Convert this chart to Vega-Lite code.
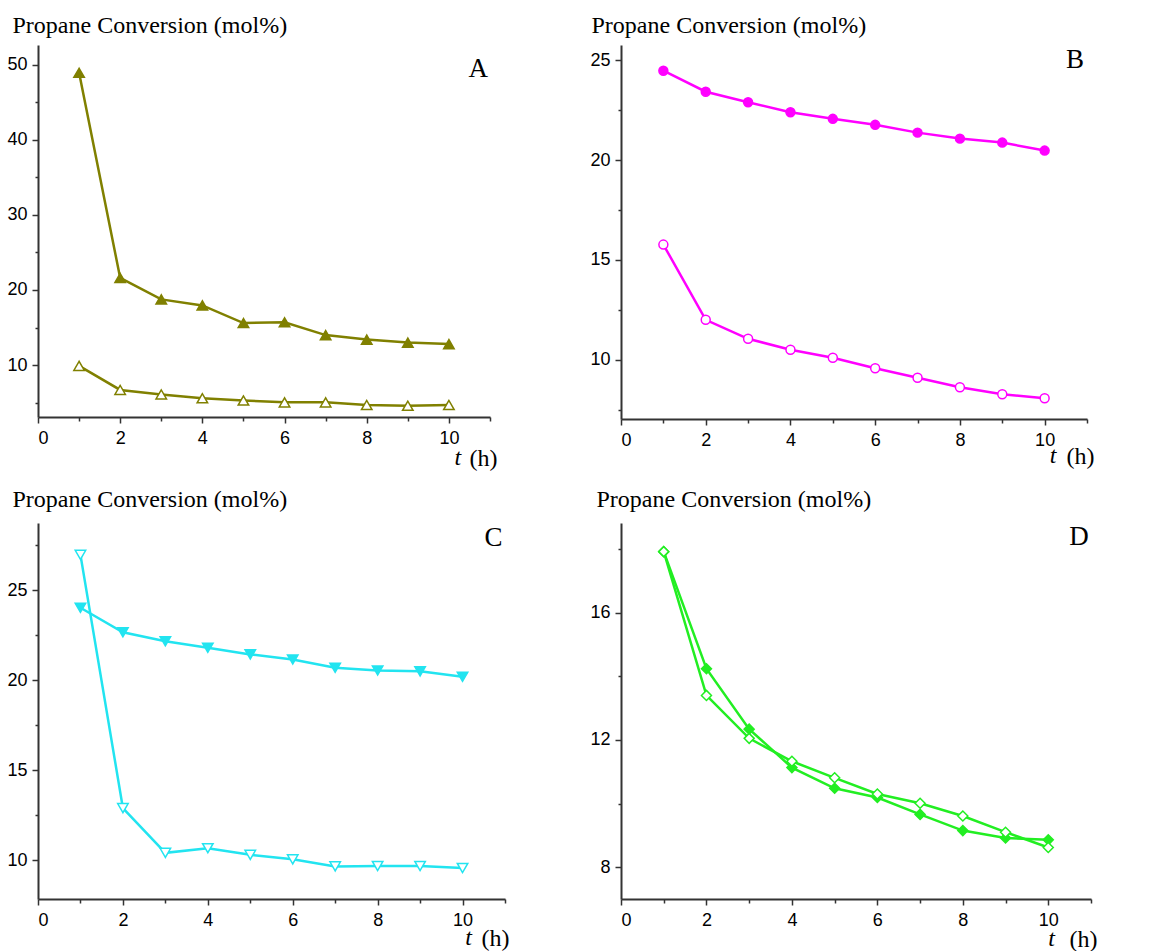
{
  "$schema": "https://vega.github.io/schema/vega-lite/v6.json",
  "background": "white",
  "padding": {"left": 6, "top": 13, "right": 5, "bottom": 5},
  "config": {
    "view": {"stroke": null},
    "axis": {
      "grid": false,
      "domainColor": "#333333",
      "domainWidth": 2,
      "tickColor": "#333333",
      "tickWidth": 1.5,
      "labelFont": "Liberation Sans",
      "labelFontSize": 18,
      "labelColor": "#000000",
      "titleFont": "Liberation Serif",
      "titleFontWeight": "normal",
      "titleColor": "#000000"
    }
  },
  "datasets": {
    "A": [
      {"t": 1, "v": 48.9, "s": "filled"}, {"t": 2, "v": 21.6, "s": "filled"}, {"t": 3, "v": 18.75, "s": "filled"}, {"t": 4, "v": 17.95, "s": "filled"}, {"t": 5, "v": 15.6, "s": "filled"},
      {"t": 6, "v": 15.7, "s": "filled"}, {"t": 7, "v": 14.0, "s": "filled"}, {"t": 8, "v": 13.4, "s": "filled"}, {"t": 9, "v": 13.0, "s": "filled"}, {"t": 10, "v": 12.8, "s": "filled"},
      {"t": 1, "v": 9.9, "s": "open"}, {"t": 2, "v": 6.7, "s": "open"}, {"t": 3, "v": 6.1, "s": "open"}, {"t": 4, "v": 5.6, "s": "open"}, {"t": 5, "v": 5.3, "s": "open"},
      {"t": 6, "v": 5.05, "s": "open"}, {"t": 7, "v": 5.05, "s": "open"}, {"t": 8, "v": 4.7, "s": "open"}, {"t": 9, "v": 4.6, "s": "open"}, {"t": 10, "v": 4.7, "s": "open"}
    ],
    "B": [
      {"t": 1, "v": 24.48, "s": "filled"}, {"t": 2, "v": 23.43, "s": "filled"}, {"t": 3, "v": 22.9, "s": "filled"}, {"t": 4, "v": 22.4, "s": "filled"}, {"t": 5, "v": 22.07, "s": "filled"},
      {"t": 6, "v": 21.77, "s": "filled"}, {"t": 7, "v": 21.38, "s": "filled"}, {"t": 8, "v": 21.08, "s": "filled"}, {"t": 9, "v": 20.88, "s": "filled"}, {"t": 10, "v": 20.48, "s": "filled"},
      {"t": 1, "v": 15.77, "s": "open"}, {"t": 2, "v": 12.0, "s": "open"}, {"t": 3, "v": 11.05, "s": "open"}, {"t": 4, "v": 10.5, "s": "open"}, {"t": 5, "v": 10.1, "s": "open"},
      {"t": 6, "v": 9.57, "s": "open"}, {"t": 7, "v": 9.1, "s": "open"}, {"t": 8, "v": 8.62, "s": "open"}, {"t": 9, "v": 8.27, "s": "open"}, {"t": 10, "v": 8.07, "s": "open"}
    ],
    "C": [
      {"t": 1, "v": 24.02, "s": "filled"}, {"t": 2, "v": 22.66, "s": "filled"}, {"t": 3, "v": 22.16, "s": "filled"}, {"t": 4, "v": 21.8, "s": "filled"}, {"t": 5, "v": 21.43, "s": "filled"},
      {"t": 6, "v": 21.15, "s": "filled"}, {"t": 7, "v": 20.69, "s": "filled"}, {"t": 8, "v": 20.54, "s": "filled"}, {"t": 9, "v": 20.49, "s": "filled"}, {"t": 10, "v": 20.19, "s": "filled"},
      {"t": 1, "v": 26.95, "s": "open"}, {"t": 2, "v": 12.9, "s": "open"}, {"t": 3, "v": 10.42, "s": "open"}, {"t": 4, "v": 10.68, "s": "open"}, {"t": 5, "v": 10.31, "s": "open"},
      {"t": 6, "v": 10.06, "s": "open"}, {"t": 7, "v": 9.67, "s": "open"}, {"t": 8, "v": 9.69, "s": "open"}, {"t": 9, "v": 9.69, "s": "open"}, {"t": 10, "v": 9.58, "s": "open"}
    ],
    "D": [
      {"t": 1, "v": 17.92, "s": "filled"}, {"t": 2, "v": 14.24, "s": "filled"}, {"t": 3, "v": 12.34, "s": "filled"}, {"t": 4, "v": 11.13, "s": "filled"}, {"t": 5, "v": 10.48, "s": "filled"},
      {"t": 6, "v": 10.19, "s": "filled"}, {"t": 7, "v": 9.66, "s": "filled"}, {"t": 8, "v": 9.15, "s": "filled"}, {"t": 9, "v": 8.92, "s": "filled"}, {"t": 10, "v": 8.86, "s": "filled"},
      {"t": 1, "v": 17.92, "s": "open"}, {"t": 2, "v": 13.4, "s": "open"}, {"t": 3, "v": 12.05, "s": "open"}, {"t": 4, "v": 11.33, "s": "open"}, {"t": 5, "v": 10.81, "s": "open"},
      {"t": 6, "v": 10.3, "s": "open"}, {"t": 7, "v": 10.01, "s": "open"}, {"t": 8, "v": 9.61, "s": "open"}, {"t": 9, "v": 9.1, "s": "open"}, {"t": 10, "v": 8.62, "s": "open"}
    ]
  },
  "columns": 2,
  "spacing": {"column": 80, "row": 16},
  "concat": [
    {
      "width": 452, "height": 372,
      "data": {"name": "A"},
      "encoding": {
        "x": {"field": "t", "type": "quantitative", "scale": {"domain": [0, 11], "nice": false, "zero": false},
          "axis": {"title": "(h)", "titleFontSize": 24, "titleAlign": "right", "titleBaseline": "alphabetic", "titleX": 459, "titleY": 48,
            "values": [0,1,2,3,4,5,6,7,8,9,10,11], "labelExpr": "datum.value % 2 === 0 && datum.value <= 10 ? datum.label : ''",
            "tickSize": {"condition": {"test": "datum.value % 2 === 0", "value": 6}, "value": 4}, "labelPadding": 6}},
        "y": {"field": "v", "type": "quantitative", "scale": {"domain": [3.1, 52.6], "nice": false, "zero": false},
          "axis": {"title": "Propane Conversion (mol%)", "titleFontSize": 24, "titleAngle": 0, "titleAlign": "left", "titleBaseline": "alphabetic", "titleX": -26, "titleY": -13,
            "values": [5,10,15,20,25,30,35,40,45,50], "labelExpr": "datum.value % 10 === 0 ? datum.label : ''",
            "tickSize": {"condition": {"test": "datum.value % 10 === 0", "value": 6}, "value": 3}, "labelPadding": 5}}
      },
      "layer": [
        {"mark": {"type": "line", "color": "#808000", "strokeWidth": 2.5}, "encoding": {"detail": {"field": "s"}}},
        {"mark": {"type": "point", "shape": "triangle-up", "size": 110, "filled": true, "stroke": "#808000", "strokeWidth": 1.5, "opacity": 1},
          "encoding": {"fill": {"condition": {"test": "datum.s === 'filled'", "value": "#808000"}, "value": "#ffffff"}}},
        {"transform": [{"filter": "datum.t === 1 && datum.s === 'filled'"}],
          "mark": {"type": "text", "text": "A", "font": "Liberation Serif", "fontSize": 27, "color": "#000000", "align": "right", "baseline": "alphabetic"},
          "encoding": {"x": {"datum": 10.95, "type": "quantitative"}, "y": {"datum": 48.3, "type": "quantitative"}}},
        {"transform": [{"filter": "datum.t === 1 && datum.s === 'filled'"}],
          "mark": {"type": "text", "text": "t", "font": "Liberation Serif", "fontSize": 24, "fontStyle": "italic", "color": "#000000", "align": "center", "baseline": "alphabetic"},
          "encoding": {"x": {"datum": 10.22, "type": "quantitative"}, "y": {"datum": -3.29, "type": "quantitative"}}}
      ]
    },
    {
      "width": 466, "height": 374,
      "data": {"name": "B"},
      "encoding": {
        "x": {"field": "t", "type": "quantitative", "scale": {"domain": [0, 11], "nice": false, "zero": false},
          "axis": {"title": "(h)", "titleFontSize": 24, "titleAlign": "right", "titleBaseline": "alphabetic", "titleX": 473, "titleY": 44,
            "values": [0,1,2,3,4,5,6,7,8,9,10,11], "labelExpr": "datum.value % 2 === 0 && datum.value <= 10 ? datum.label : ''",
            "tickSize": {"condition": {"test": "datum.value % 2 === 0", "value": 6}, "value": 4}, "labelPadding": 6}},
        "y": {"field": "v", "type": "quantitative", "scale": {"domain": [7.03, 25.77], "nice": false, "zero": false},
          "axis": {"title": "Propane Conversion (mol%)", "titleFontSize": 24, "titleAngle": 0, "titleAlign": "left", "titleBaseline": "alphabetic", "titleX": -30, "titleY": -13,
            "values": [7.5,10,12.5,15,17.5,20,22.5,25], "labelExpr": "datum.value % 5 === 0 ? datum.label : ''",
            "tickSize": {"condition": {"test": "datum.value % 5 === 0", "value": 6}, "value": 3}, "labelPadding": 5}}
      },
      "layer": [
        {"mark": {"type": "line", "color": "#ff00ff", "strokeWidth": 2.5}, "encoding": {"detail": {"field": "s"}}},
        {"mark": {"type": "point", "shape": "circle", "size": 80, "filled": true, "stroke": "#ff00ff", "strokeWidth": 1.5, "opacity": 1},
          "encoding": {"fill": {"condition": {"test": "datum.s === 'filled'", "value": "#ff00ff"}, "value": "#ffffff"}}},
        {"transform": [{"filter": "datum.t === 1 && datum.s === 'filled'"}],
          "mark": {"type": "text", "text": "B", "font": "Liberation Serif", "fontSize": 27, "color": "#000000", "align": "right", "baseline": "alphabetic"},
          "encoding": {"x": {"datum": 10.93, "type": "quantitative"}, "y": {"datum": 24.61, "type": "quantitative"}}},
        {"transform": [{"filter": "datum.t === 1 && datum.s === 'filled'"}],
          "mark": {"type": "text", "text": "t", "font": "Liberation Serif", "fontSize": 24, "fontStyle": "italic", "color": "#000000", "align": "center", "baseline": "alphabetic"},
          "encoding": {"x": {"datum": 10.2, "type": "quantitative"}, "y": {"datum": 4.83, "type": "quantitative"}}}
      ]
    },
    {
      "width": 467, "height": 376,
      "data": {"name": "C"},
      "encoding": {
        "x": {"field": "t", "type": "quantitative", "scale": {"domain": [0, 11], "nice": false, "zero": false},
          "axis": {"title": "(h)", "titleFontSize": 24, "titleAlign": "right", "titleBaseline": "alphabetic", "titleX": 471, "titleY": 46,
            "values": [0,1,2,3,4,5,6,7,8,9,10,11], "labelExpr": "datum.value % 2 === 0 && datum.value <= 10 ? datum.label : ''",
            "tickSize": {"condition": {"test": "datum.value % 2 === 0", "value": 6}, "value": 4}, "labelPadding": 6}},
        "y": {"field": "v", "type": "quantitative", "scale": {"domain": [7.86, 28.72], "nice": false, "zero": false},
          "axis": {"title": "Propane Conversion (mol%)", "titleFontSize": 24, "titleAngle": 0, "titleAlign": "left", "titleBaseline": "alphabetic", "titleX": -26, "titleY": -17,
            "values": [10,12.5,15,17.5,20,22.5,25,27.5], "labelExpr": "datum.value % 5 === 0 ? datum.label : ''",
            "tickSize": {"condition": {"test": "datum.value % 5 === 0", "value": 6}, "value": 3}, "labelPadding": 5}}
      },
      "layer": [
        {"mark": {"type": "line", "color": "#22e4f0", "strokeWidth": 2.5}, "encoding": {"detail": {"field": "s"}}},
        {"mark": {"type": "point", "shape": "triangle-down", "size": 110, "filled": true, "stroke": "#22e4f0", "strokeWidth": 1.5, "opacity": 1},
          "encoding": {"fill": {"condition": {"test": "datum.s === 'filled'", "value": "#22e4f0"}, "value": "#ffffff"}}},
        {"transform": [{"filter": "datum.t === 1 && datum.s === 'filled'"}],
          "mark": {"type": "text", "text": "C", "font": "Liberation Serif", "fontSize": 27, "color": "#000000", "align": "right", "baseline": "alphabetic"},
          "encoding": {"x": {"datum": 10.94, "type": "quantitative"}, "y": {"datum": 27.45, "type": "quantitative"}}},
        {"transform": [{"filter": "datum.t === 1 && datum.s === 'filled'"}],
          "mark": {"type": "text", "text": "t", "font": "Liberation Serif", "fontSize": 24, "fontStyle": "italic", "color": "#000000", "align": "center", "baseline": "alphabetic"},
          "encoding": {"x": {"datum": 10.14, "type": "quantitative"}, "y": {"datum": 5.32, "type": "quantitative"}}}
      ]
    },
    {
      "width": 470, "height": 376,
      "data": {"name": "D"},
      "encoding": {
        "x": {"field": "t", "type": "quantitative", "scale": {"domain": [0, 11], "nice": false, "zero": false},
          "axis": {"title": "(h)", "titleFontSize": 24, "titleAlign": "right", "titleBaseline": "alphabetic", "titleX": 476, "titleY": 47,
            "values": [0,1,2,3,4,5,6,7,8,9,10,11], "labelExpr": "datum.value % 2 === 0 && datum.value <= 10 ? datum.label : ''",
            "tickSize": {"condition": {"test": "datum.value % 2 === 0", "value": 6}, "value": 4}, "labelPadding": 6}},
        "y": {"field": "v", "type": "quantitative", "scale": {"domain": [7.0, 18.82], "nice": false, "zero": false},
          "axis": {"title": "Propane Conversion (mol%)", "titleFontSize": 24, "titleAngle": 0, "titleAlign": "left", "titleBaseline": "alphabetic", "titleX": -25, "titleY": -17,
            "values": [8,10,12,14,16,18], "labelExpr": "datum.value % 4 === 0 ? datum.label : ''",
            "tickSize": {"condition": {"test": "datum.value % 4 === 0", "value": 6}, "value": 3}, "labelPadding": 5}}
      },
      "layer": [
        {"mark": {"type": "line", "color": "#22ee22", "strokeWidth": 2.5}, "encoding": {"detail": {"field": "s"}}},
        {"mark": {"type": "point", "shape": "diamond", "size": 100, "filled": true, "stroke": "#22ee22", "strokeWidth": 1.5, "opacity": 1},
          "encoding": {"fill": {"condition": {"test": "datum.s === 'filled'", "value": "#22ee22"}, "value": "#ffffff"}}},
        {"transform": [{"filter": "datum.t === 1 && datum.s === 'filled'"}],
          "mark": {"type": "text", "text": "D", "font": "Liberation Serif", "fontSize": 27, "color": "#000000", "align": "right", "baseline": "alphabetic"},
          "encoding": {"x": {"datum": 10.95, "type": "quantitative"}, "y": {"datum": 18.13, "type": "quantitative"}}},
        {"transform": [{"filter": "datum.t === 1 && datum.s === 'filled'"}],
          "mark": {"type": "text", "text": "t", "font": "Liberation Serif", "fontSize": 24, "fontStyle": "italic", "color": "#000000", "align": "center", "baseline": "alphabetic"},
          "encoding": {"x": {"datum": 10.08, "type": "quantitative"}, "y": {"datum": 5.52, "type": "quantitative"}}}
      ]
    }
  ]
}
